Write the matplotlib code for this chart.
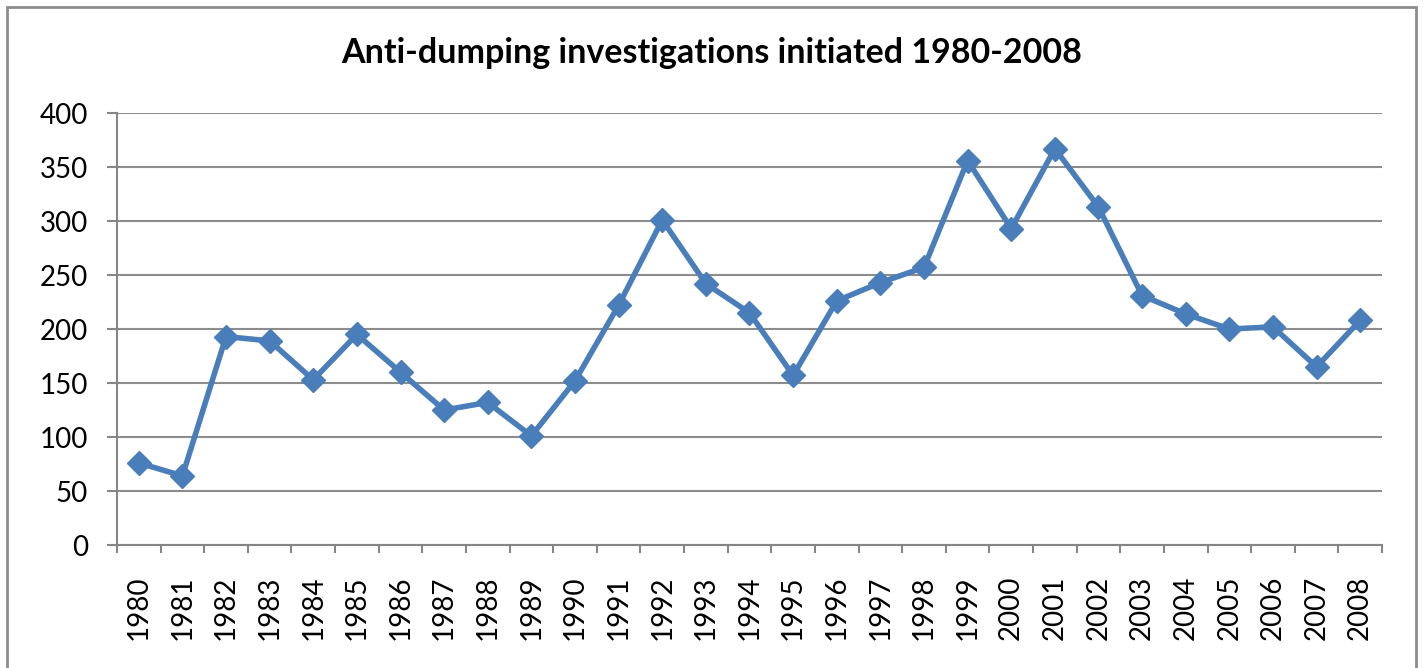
import matplotlib
matplotlib.use('Agg')
import matplotlib.pyplot as plt
from matplotlib.patches import Rectangle

years = [str(y) for y in range(1980, 2009)]
cases = [76, 64, 193, 189, 153, 195, 160, 125, 132, 101,
         152, 222, 301, 242, 215, 157, 226, 243, 257, 356,
         293, 367, 313, 231, 214, 200, 202, 165, 208]

plt.rcParams['font.family'] = ['Lato', 'DejaVu Sans']

fig = plt.figure(figsize=(14.23, 6.68), dpi=100)
ax = fig.add_axes([0.0822, 0.1841, 0.889, 0.6467])

# outer chart border
fig.patches.append(Rectangle((0.005, -0.01), 0.99, 1.0, transform=fig.transFigure,
                             fill=False, edgecolor='#8c8c8c', linewidth=2))

x = list(range(len(years)))
ax.plot(x, cases, color='#4a7ebb', linewidth=4, marker='D', markersize=12,
        zorder=3)

ax.set_xlim(-0.5, len(years) - 0.5)
ax.set_ylim(0, 400)
ax.set_yticks(range(0, 401, 50))
ax.set_xticks(x)
ax.set_xticklabels(years, rotation=90, fontsize=20)
ax.set_xticks([i - 0.5 for i in range(len(years) + 1)], minor=True)
ax.tick_params(axis='x', which='major', length=0, pad=22)
ax.tick_params(axis='x', which='minor', length=6, width=1.5, color='#868686')
ax.tick_params(axis='y', length=7, width=1.5, color='#868686', labelsize=20, pad=14)

ax.grid(axis='y', color='#8c8c8c', linewidth=1.5)
ax.set_axisbelow(True)
for s in ['top', 'right']:
    ax.spines[s].set_visible(False)
for s in ['left', 'bottom']:
    ax.spines[s].set_color('#868686')
    ax.spines[s].set_linewidth(1.5)

fig.text(0.5, 0.92, 'Anti-dumping investigations initiated 1980-2008',
         ha='center', va='center', fontsize=24.5, fontweight='bold')

fig.savefig('out.png', dpi=100)
